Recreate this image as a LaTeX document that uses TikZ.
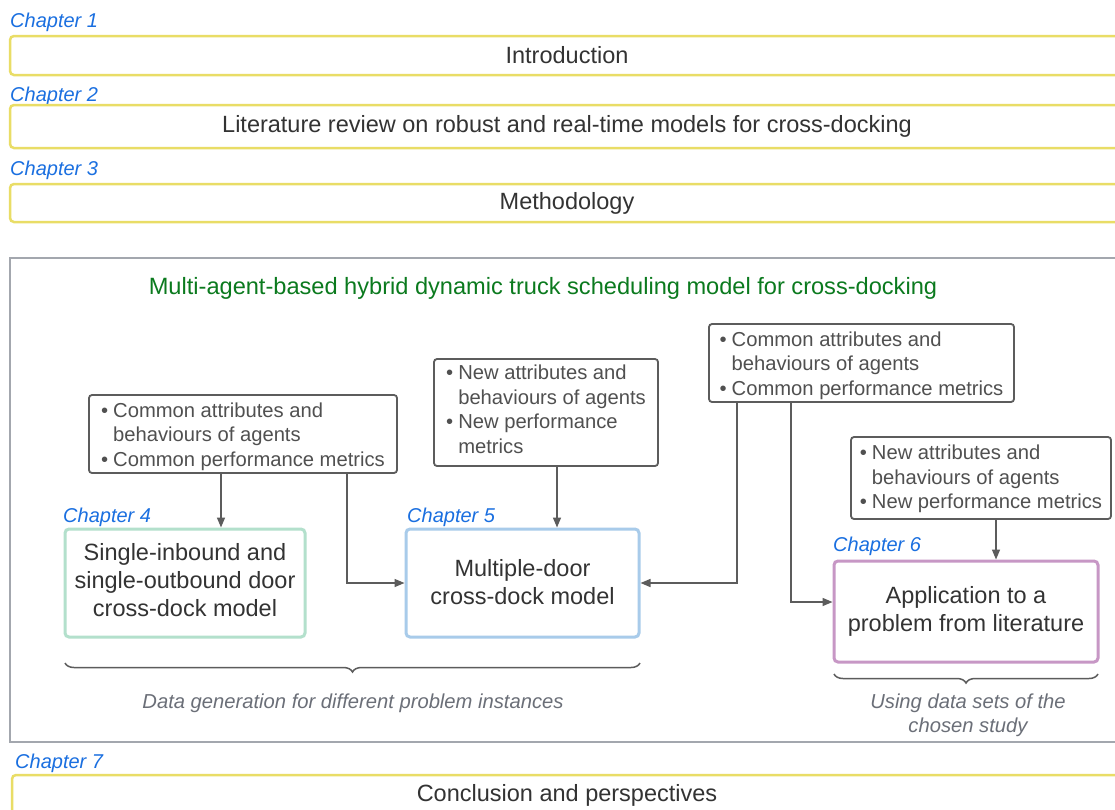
\documentclass[tikz,border=0pt]{standalone}
\usepackage{fontspec}
\setmainfont{Liberation Sans}
\usetikzlibrary{arrows.meta,decorations.pathreplacing,calc}
\definecolor{chapblue}{HTML}{1A6FE0}
\definecolor{yel}{HTML}{E9DD66}
\definecolor{txt}{HTML}{333333}
\definecolor{bul}{HTML}{505050}
\definecolor{bbord}{HTML}{5C5C5C}
\definecolor{ttlgreen}{HTML}{0B7A1E}
\definecolor{cont}{HTML}{A3A7AE}
\definecolor{capgray}{HTML}{6B6F78}
\definecolor{mint}{HTML}{B3E0CC}
\definecolor{lblue}{HTML}{A8CBEA}
\definecolor{purp}{HTML}{C797C5}
\tikzset{
  chaplabel/.style={anchor=west,inner sep=0pt,text=chapblue,font=\fontsize{20}{22}\selectfont\itshape},
  chapbox/.style={draw=yel,line width=2.5pt,rounded corners=4pt,text=txt,
    font=\fontsize{23.5}{28}\selectfont,inner sep=0pt},
  bulbox/.style={draw=bbord,line width=1.8pt,rounded corners=3pt,inner sep=0pt},
  bultext/.style={text=bul,font=\fontsize{20.2}{24.5}\selectfont,inner sep=0pt},
  modbox/.style={line width=3pt,rounded corners=4pt,inner sep=0pt},
  modtext/.style={text=txt,align=center,font=\fontsize{23.5}{28}\selectfont,inner sep=0pt},
  conn/.style={draw=bbord,line width=1.5pt,-{Triangle[length=10pt,width=8pt]}},
  brc/.style={draw=bbord,line width=1.5pt,decorate,decoration={brace,amplitude=9pt,mirror}},
  captxt/.style={text=capgray,font=\fontsize{20.2}{24}\selectfont\itshape,align=center,inner sep=0pt},
}
\newcommand{\bl}{\textbullet}
\begin{document}
\begin{tikzpicture}[x=1pt,y=-1pt]
\useasboundingbox (0,0) rectangle (1115,809);
\clip (0,0) rectangle (1115,809);
\fill[white] (0,0) rectangle (1115,809);
% chapters 1-3
\node[chaplabel] (l1) at (10,22) {Chapter 1};
\node[chapbox,minimum width=1114pt,minimum height=39pt] (c1) at (567,55.5) {Introduction};
\node[chaplabel] (l2) at (10,96) {Chapter 2};
\node[chapbox,minimum width=1114pt,minimum height=43pt] (c2) at (567,126.5) {Literature review on robust and real-time models for cross-docking};
\node[chaplabel] (l3) at (10,170) {Chapter 3};
\node[chapbox,minimum width=1114pt,minimum height=38pt] (c3) at (567,203) {Methodology};
% container
\draw[cont,line width=1.3pt] (10,258) rectangle (1135,742);
\node[text=ttlgreen,font=\fontsize{23.6}{28}\selectfont,inner sep=0pt] (ttl) at (543,288) {Multi-agent-based hybrid dynamic truck scheduling model for cross-docking};
% bullet boxes
\node[bulbox,minimum width=308pt,minimum height=78pt] (A) at (243,434) {};
\node[bultext] (At) at ($(A.center)+(0,3)$) {\begin{tabular}{@{}l@{\hspace{5pt}}l@{}}\bl & Common attributes and\\ & behaviours of agents\\ \bl & Common performance metrics\end{tabular}};
\node[bulbox,minimum width=224pt,minimum height=107pt] (B) at (546,412.5) {};
\node[bultext] (Bt) at ($(B.center)+(0,-1)$) {\begin{tabular}{@{}l@{\hspace{5pt}}l@{}}\bl & New attributes and\\ & behaviours of agents\\ \bl & New performance\\ & metrics\end{tabular}};
\node[bulbox,minimum width=305pt,minimum height=78pt] (C) at (861.5,363) {};
\node[bultext] (Ct) at ($(C.center)+(0,3)$) {\begin{tabular}{@{}l@{\hspace{5pt}}l@{}}\bl & Common attributes and\\ & behaviours of agents\\ \bl & Common performance metrics\end{tabular}};
\node[bulbox,minimum width=260pt,minimum height=82pt] (D) at (981,478) {};
\node[bultext] (Dt) at ($(D.center)+(0,1.5)$) {\begin{tabular}{@{}l@{\hspace{5pt}}l@{}}\bl & New attributes and\\ & behaviours of agents\\ \bl & New performance metrics\end{tabular}};
% model boxes
\node[chaplabel] (l4) at (63,517) {Chapter 4};
\node[modbox,draw=mint,minimum width=240pt,minimum height=108pt] (m4) at (185,583) {};
\node[modtext] (m4t) at ($(m4.center)+(0,-3)$) {Single-inbound and\\single-outbound door\\cross-dock model};
\node[chaplabel] (l5) at (407,517) {Chapter 5};
\node[modbox,draw=lblue,minimum width=233pt,minimum height=108pt] (m5) at (522.5,583) {};
\node[modtext] (m5t) at ($(m5.center)+(0,-1)$) {Multiple-door\\cross-dock model};
\node[chaplabel] (l6) at (833,546) {Chapter 6};
\node[modbox,draw=purp,minimum width=264pt,minimum height=101pt] (m6) at (966,611.5) {};
\node[modtext] (m6t) at (m6.center) {Application to a\\problem from literature};
% connectors
\coordinate (x221) at (221,0);
\coordinate (x347) at (347,0);
\coordinate (x557) at (557,0);
\coordinate (x737) at (737,0);
\coordinate (x791) at (791,0);
\coordinate (x996) at (996,0);
\coordinate (y602) at (0,602);
\draw[conn] (A.south -| x221) -- (m4.north -| x221);
\draw[conn] (A.south -| x347) |- (m5.west);
\draw[conn] (B.south -| x557) -- (m5.north -| x557);
\draw[conn] (C.south -| x737) |- (m5.east);
\draw[conn] (C.south -| x791) |- (m6.west |- y602);
\draw[conn] (D.south -| x996) -- (m6.north -| x996);
% braces
\coordinate (b1a) at (65,663);
\coordinate (b1b) at (640,663);
\draw[brc] (b1a) -- (b1b);
\node[captxt] (cap1) at (353,703) {Data generation for different problem instances};
\coordinate (b2a) at (834,674);
\coordinate (b2b) at (1098,674);
\draw[brc] (b2a) -- (b2b);
\node[captxt] (cap2) at (968,715) {Using data sets of the\\chosen study};
% chapter 7
\node[chaplabel] (l7) at (15,763) {Chapter 7};
\node[chapbox,minimum width=1110pt,minimum height=40pt] (c7) at (567,795) {Conclusion and perspectives};
\end{tikzpicture}
\end{document}
